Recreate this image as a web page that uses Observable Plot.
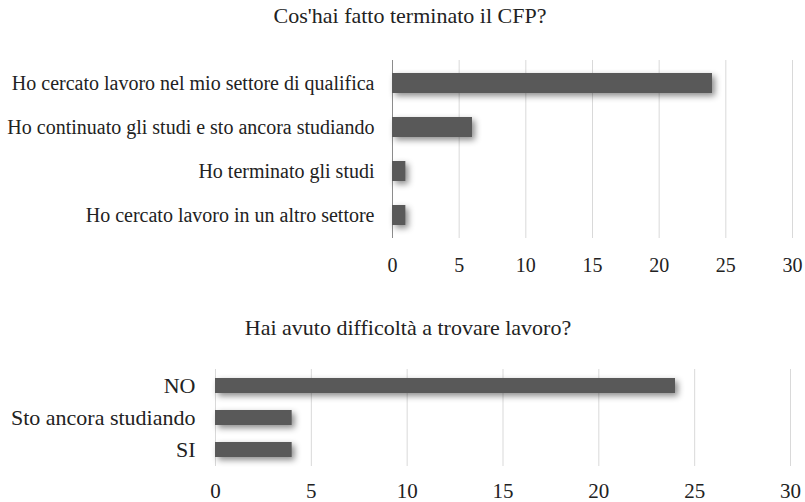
<!DOCTYPE html>
<html><head><meta charset="utf-8">
<script src="https://cdn.jsdelivr.net/npm/d3@7"></script>
<script src="https://cdn.jsdelivr.net/npm/@observablehq/plot@0.6"></script>
<style>
body{margin:0;background:#fff;font-family:"Liberation Serif","Times New Roman",serif;}
#wrap{position:relative;width:805px;height:502px;}
.title{position:absolute;transform:translateX(-50%);font-size:22px;line-height:26px;white-space:nowrap;color:#222;font-family:"Liberation Serif",serif;}
.panel{position:absolute;left:0;}
.panel text{font-family:"Liberation Serif",serif;}
</style></head><body>
<div id="wrap"></div>
<script>
const title1 = "Cos'hai fatto terminato il CFP?";
const categories1 = ["Ho cercato lavoro nel mio settore di qualifica","Ho continuato gli studi e sto ancora studiando","Ho terminato gli studi","Ho cercato lavoro in un altro settore"];
const values1 = [24, 6, 1, 1];
const title2 = "Hai avuto difficoltà a trovare lavoro?";
const categories2 = ["NO","Sto ancora studiando","SI"];
const values2 = [24, 4, 4];
const xTicks = [0, 5, 10, 15, 20, 25, 30];

const wrap = document.getElementById("wrap");
const font = "'Liberation Serif', serif";

function panel(cats, vals, opts) {
  const data = cats.map((c, i) => ({c, v: vals[i]}));
  const svg = Plot.plot({
    width: 805, height: opts.height,
    marginTop: opts.mt, marginBottom: opts.mb, marginLeft: opts.ml, marginRight: opts.mr,
    style: {background: "transparent", fontFamily: font, fontSize: opts.fs + "px", color: "#222"},
    x: {domain: [0, 30], ticks: xTicks, tickSize: 0, tickPadding: opts.xpad, label: null, tickFormat: d => String(d)},
    y: {domain: cats, paddingInner: opts.pad, paddingOuter: opts.pad / 2, tickSize: 0, tickPadding: opts.ypad, label: null},
    marks: [
      Plot.gridX(xTicks.slice(1), {stroke: "#d9d9d9", strokeOpacity: 1, strokeWidth: 1}),
      Plot.ruleX([0], {stroke: opts.axisColor, strokeWidth: 1}),
      Plot.barX(data, {y: "c", x: "v", fill: "#595959"}),
      Plot.axisX({ticks: xTicks, tickSize: 0, tickPadding: opts.xpad, fontSize: opts.xfs, label: null}),
      Plot.axisY({tickSize: 0, tickPadding: opts.ypad, fontSize: opts.fs, label: null})
    ]
  });
  d3.select(svg).selectAll("g[aria-label='bar'] rect")
    .style("filter", "drop-shadow(3px 3px 3px rgba(0,0,0,0.45))");
  svg.classList.add("panel");
  svg.style.top = opts.top + "px";
  wrap.appendChild(svg);
}

panel(categories1, values1, {height: 300, top: 0, mt: 60, mb: 62, ml: 392, mr: 13, pad: 0.55, xpad: 19, ypad: 18, fs: 20, xfs: 20, axisColor: "#8c8c8c"});
panel(categories2, values2, {height: 202, top: 300, mt: 69, mb: 36, ml: 215, mr: 15, pad: 0.535, xpad: 17, ypad: 20, fs: 22, xfs: 21, axisColor: "#d9d9d9"});

function addTitle(t, x, y) {
  const d = document.createElement("div");
  d.className = "title";
  d.textContent = t;
  d.style.left = x + "px";
  d.style.top = y + "px";
  wrap.appendChild(d);
}
addTitle(title1, 410, 3);
addTitle(title2, 408, 315);
</script>
</body></html>
